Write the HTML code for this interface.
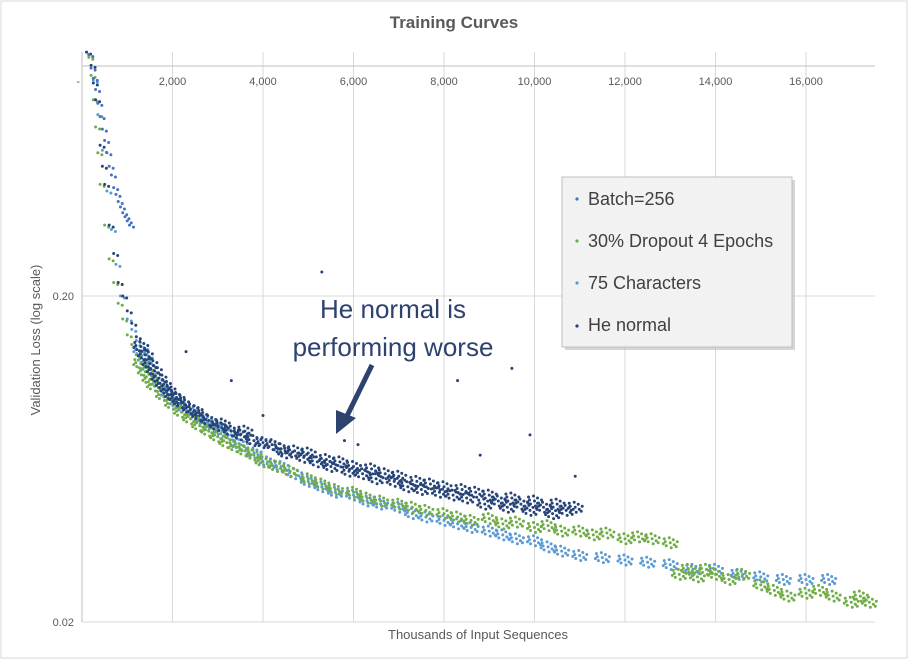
<!DOCTYPE html>
<html><head><meta charset="utf-8"><style>
body{margin:0;background:#fff;}
svg{display:block;font-family:"Liberation Sans",sans-serif;}
</style></head><body>
<svg id="chart" width="908" height="659">
<rect x="1" y="1" width="906" height="657" fill="#fff" stroke="#d9d9d9"/>
<text x="454" y="28" text-anchor="middle" font-size="17" font-weight="bold" fill="#595959">Training  Curves</text>
<g id="grid"></g>
<g id="marks"></g>
<text x="478" y="639" text-anchor="middle" font-size="13" fill="#595959">Thousands of Input Sequences</text>
<text transform="translate(40,340) rotate(-90)" text-anchor="middle" font-size="13" fill="#595959">Validation Loss (log scale)</text>
<text x="80" y="85" text-anchor="end" font-size="11" fill="#595959">-</text>
<g>
<text x="393" y="318" text-anchor="middle" font-size="26" fill="#2e4270">He normal is</text>
<text x="393" y="356" text-anchor="middle" font-size="26" fill="#2e4270">performing worse</text>
<line x1="372" y1="365" x2="346" y2="418" stroke="#2e4270" stroke-width="5"/>
<polygon points="336,434 336,410 356,418" fill="#2e4270"/>
</g>
<g>
<rect x="565" y="180" width="230" height="170" fill="#bbb" opacity="0.6"/>
<rect x="562" y="177" width="230" height="170" fill="#f2f2f2" stroke="#bfbfbf"/>
<circle cx="577" cy="199" r="1.6" fill="#4472c4"/><text x="588" y="205" font-size="18" fill="#404040">Batch=256</text>
<circle cx="577" cy="241" r="1.6" fill="#70ad47"/><text x="588" y="247" font-size="18" fill="#404040">30% Dropout 4 Epochs</text>
<circle cx="577" cy="283" r="1.6" fill="#5b9bd5"/><text x="588" y="289" font-size="18" fill="#404040">75 Characters</text>
<circle cx="577" cy="326" r="1.6" fill="#264478"/><text x="588" y="331" font-size="18" fill="#404040">He normal</text>
</g>
</svg>
<script>
const xTicks=[2000,4000,6000,8000,10000,12000,14000,16000];
const xTickLabels=["2,000","4,000","6,000","8,000","10,000","12,000","14,000","16,000"];
const yTicks=[0.2,0.02];
const yTickLabels=["0.20","0.02"];
const seriesNames=["75 Characters","30% Dropout 4 Epochs","He normal","Batch=256"];
const heX=[0.1,0.2,0.25,0.3,0.4,0.45,0.5,0.6,0.7,0.8,0.9,1.0,1.1,1.2,1.3,1.4,1.5,1.6,1.7,1.8,1.9,2.0,2.1,2.2,2.4,2.5,2.6,2.8,3.0,3.1,3.3,3.5,3.6,3.8,4.0,4.2,4.4,4.5,4.7,4.9,5.0,5.2,5.4,5.5,5.7,5.9,6.0,6.2,6.4,6.5,6.7,6.9,7.0,7.2,7.4,7.5,7.7,7.9,8.0,8.2,8.4,8.5,8.7,8.9,9.0,9.2,9.4,9.5,9.7,9.9,10.0,10.2,10.4,10.5,10.7,10.9,5.3,2.3,3.3,4.0,8.3,9.5,9.9,8.8,10.9,5.8,6.1];
const heY=[1.12,1.02,0.9,0.8,0.58,0.5,0.44,0.33,0.27,0.22,0.2,0.18,0.165,0.15,0.14,0.132,0.124,0.118,0.112,0.107,0.103,0.099,0.097,0.094,0.09,0.089,0.086,0.083,0.08,0.081,0.077,0.075,0.077,0.072,0.071,0.07,0.068,0.066,0.067,0.064,0.066,0.062,0.063,0.060,0.062,0.058,0.060,0.057,0.059,0.055,0.057,0.054,0.056,0.052,0.054,0.051,0.053,0.050,0.052,0.049,0.051,0.048,0.050,0.046,0.049,0.047,0.045,0.048,0.046,0.044,0.047,0.045,0.043,0.046,0.044,0.045,0.237,0.135,0.11,0.086,0.11,0.12,0.075,0.065,0.056,0.072,0.070];
const grX=[0.15,0.2,0.25,0.3,0.35,0.4,0.5,0.6,0.7,0.8,0.9,1.0,1.1,1.2,1.3,1.4,1.5,1.6,1.8,2.0,2.2,2.4,2.6,2.8,3.0,3.2,3.4,3.6,3.8,4.0,4.3,4.6,5.0,5.3,5.6,6.0,6.3,6.6,7.0,7.3,7.6,8.0,8.3,8.6,9.0,9.3,9.6,10.0,10.3,10.6,11.0,11.3,11.6,12.0,12.3,12.6,13.0,13.2,13.4,13.6,13.8,14.0,14.3,14.6,15.0,15.3,15.6,16.0,16.3,16.6,17.0,17.2,17.4];
const grY=[1.08,0.95,0.8,0.66,0.55,0.44,0.33,0.26,0.22,0.19,0.17,0.152,0.142,0.132,0.124,0.117,0.111,0.106,0.099,0.093,0.088,0.084,0.080,0.077,0.074,0.071,0.069,0.067,0.065,0.062,0.060,0.058,0.055,0.053,0.051,0.050,0.048,0.047,0.046,0.045,0.044,0.043,0.042,0.041,0.0415,0.040,0.0405,0.039,0.0395,0.038,0.038,0.037,0.0375,0.036,0.0365,0.036,0.035,0.028,0.029,0.0275,0.029,0.028,0.027,0.028,0.026,0.025,0.024,0.0245,0.025,0.024,0.023,0.024,0.023];
const lbX=[0.15,0.25,0.35,0.45,0.55,0.65,0.75,0.85,1.0,1.1,1.2,1.3,1.4,1.5,1.7,1.9,2.1,2.3,2.5,2.7,2.9,3.1,3.3,3.5,3.8,4.1,4.4,4.7,5.0,5.3,5.6,6.0,6.3,6.6,7.0,7.3,7.6,8.0,8.3,8.6,9.0,9.3,9.6,10.0,10.3,10.6,11.0,11.5,12.0,12.5,13.0,13.5,14.0,14.5,15.0,15.5,16.0,16.5];
const lbY=[1.1,0.92,0.72,0.56,0.42,0.32,0.25,0.2,0.17,0.158,0.146,0.136,0.128,0.12,0.108,0.1,0.094,0.09,0.086,0.083,0.08,0.077,0.075,0.07,0.066,0.062,0.060,0.057,0.054,0.052,0.050,0.049,0.047,0.046,0.045,0.043,0.042,0.041,0.040,0.039,0.038,0.037,0.036,0.0355,0.034,0.033,0.032,0.0315,0.031,0.0305,0.030,0.029,0.029,0.028,0.0275,0.027,0.027,0.027];
const bX=[0.15,0.2,0.25,0.3,0.35,0.4,0.45,0.5,0.55,0.6,0.65,0.7,0.75,0.8,0.85,0.9,0.95,1.0,1.05];
const bY=[1.1,1.0,0.93,0.86,0.78,0.71,0.65,0.6,0.55,0.5,0.47,0.43,0.41,0.39,0.375,0.36,0.35,0.34,0.33];

const NS="http://www.w3.org/2000/svg";
const L=82,R=875,T=52,B=622;
function xs(k){return L+k*1000*(90.5/2000);}
function ys(v){return 296-Math.log10(v/0.2)*326;}
const grid=document.getElementById('grid');
function mk(tag,attrs,parent){const e=document.createElementNS(NS,tag);for(const k in attrs)e.setAttribute(k,attrs[k]);parent.appendChild(e);return e;}
xTicks.forEach((t,i)=>{
  const x=xs(t/1000);
  const gl=mk('line',{x1:x,x2:x,y1:T,y2:B,stroke:'#d9d9d9'},grid);
  
  
  const tx=mk('text',{x:x,y:85,'text-anchor':'middle','font-size':11,fill:'#595959'},grid);
  tx.textContent=xTickLabels[i];
  
  
});
yTicks.forEach((t,i)=>{
  const y=ys(t);
  const gl=mk('line',{x1:L,x2:R,y1:y,y2:y,stroke:'#d9d9d9'},grid);
  
  
  const tx=mk('text',{x:74,y:y+4,'text-anchor':'end','font-size':11,fill:'#595959'},grid);
  tx.textContent=yTickLabels[i];
  
  
});
const topLine=mk('line',{x1:L,x2:R,y1:66,y2:66,stroke:'#bfbfbf'},grid);


const leftLine=mk('line',{x1:L,x2:L,y1:T,y2:B,stroke:'#bfbfbf'},grid);


const marks=document.getElementById('marks');
const offs=[[0,0],[4,2],[-4,3],[3,-3],[-5,-1],[7,-1],[-7,1],[1,5],[-1,-5],[6,4],[-6,-4]];
function draw(X,Y,color,name,isOutlierStart){
  const g=mk('g',{},marks);
  
  
  X.forEach((k,i)=>{
    const cx=xs(k),cy=ys(Y[i]);
    let n=k>1.2?offs.length:2;
    if(isOutlierStart!==undefined&&i>=isOutlierStart)n=1;
    for(let j=0;j<n;j++){
      const c=mk('circle',{cx:cx+offs[j][0],cy:cy+offs[j][1],r:1.5,fill:color},g);
      
      
    }
  });
}
draw(lbX,lbY,'#5b9bd5','series-75-characters');
draw(grX,grY,'#70ad47','series-dropout');
draw(heX,heY,'#264478','series-he-normal',76);
draw(bX,bY,'#4472c4','series-batch-256');
</script>
</body></html>
